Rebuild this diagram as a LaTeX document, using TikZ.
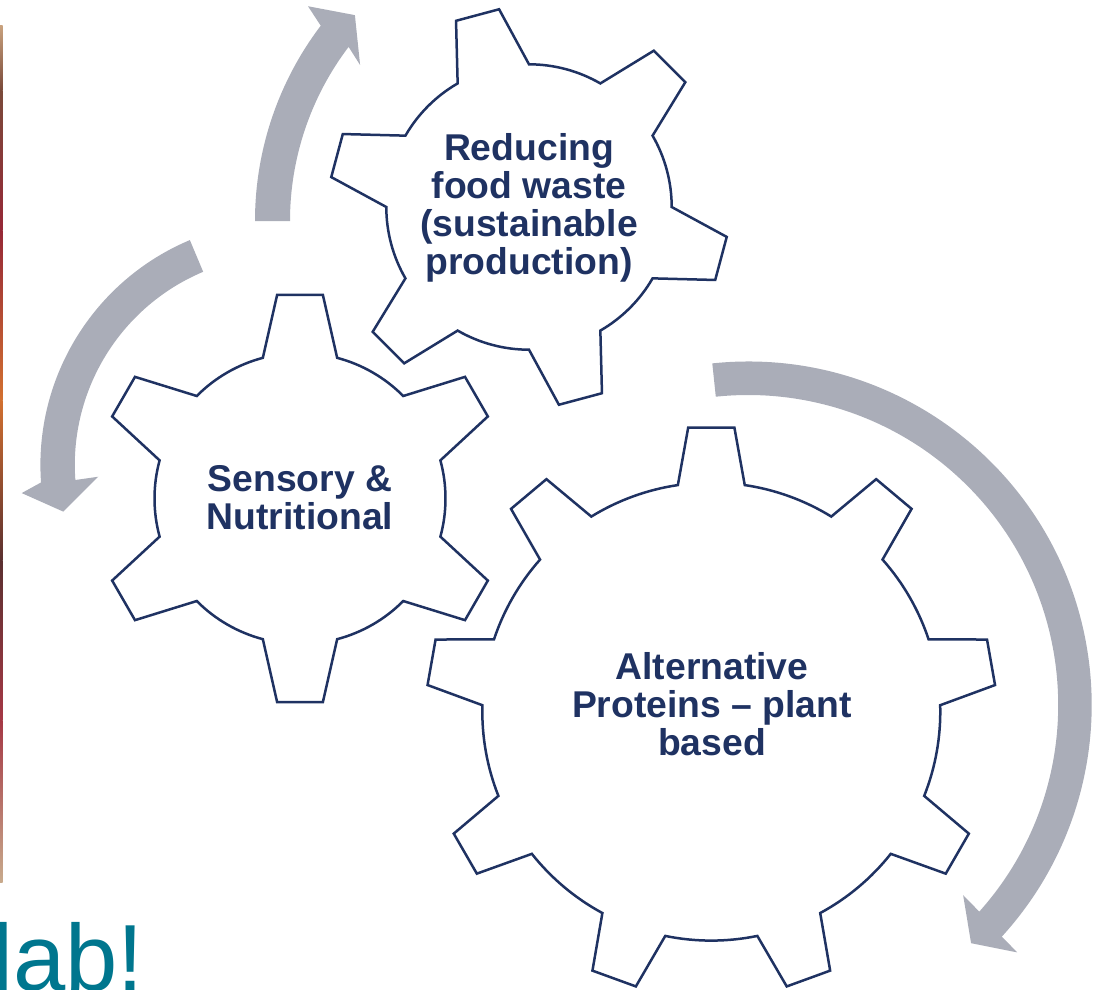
\documentclass[tikz,border=0pt]{standalone}
\usepackage{fontspec}
\setmainfont{Liberation Sans}
\definecolor{navy}{RGB}{31,50,98}
\definecolor{arrowgray}{RGB}{170,173,184}
\definecolor{labteal}{RGB}{0,118,142}

% Gear outline centred at the origin of the current scope:
% #1 tip radius, #2 root radius, #3 teeth, #4 angle of first tooth,
% #5 half angle of a tooth tip, #6 half angle of a tooth root
\newcommand{\gearoutline}[6]{%
  \pgfmathsetmacro\gstep{360/#3}%
  \draw[gearline] ({#4-#6}:#2)
    \foreach \k in {1,...,#3}{
      -- ({#4+(\k-1)*\gstep-#5}:#1) -- ({#4+(\k-1)*\gstep+#5}:#1)
      -- ({#4+(\k-1)*\gstep+#6}:#2)
      arc[start angle={#4+(\k-1)*\gstep+#6}, end angle={#4+\k*\gstep-#6}, radius=#2]
    } -- cycle;%
}

\tikzset{
  gearline/.style={draw=navy, line width=2.5pt, fill=white, line join=miter},
  geartext/.style={text=navy, align=center, inner sep=0pt,
                   font=\bfseries\fontsize{37.3}{38}\selectfont},
  cyclearrow/.style={fill=arrowgray, draw=none}
}

\begin{document}
\begin{tikzpicture}[x=1pt,y=1pt]
\useasboundingbox (0,-989) rectangle (1104,0);
\clip (0,-989) rectangle (1104,0);

% thin photo edge on the left
\shade[top color={rgb,255:red,201;green,162;blue,126}, bottom color={rgb,255:red,122;green,74;blue,58}] (0,-25) rectangle (2.5,-90);
\shade[top color={rgb,255:red,122;green,74;blue,58}, bottom color={rgb,255:red,150;green,40;blue,55}] (0,-90) rectangle (2.5,-230);
\shade[top color={rgb,255:red,150;green,40;blue,55}, bottom color={rgb,255:red,210;green,112;blue,48}] (0,-230) rectangle (2.5,-400);
\shade[top color={rgb,255:red,210;green,112;blue,48}, bottom color={rgb,255:red,90;green,48;blue,48}] (0,-400) rectangle (2.5,-560);
\shade[top color={rgb,255:red,90;green,48;blue,48}, bottom color={rgb,255:red,165;green,56;blue,69}] (0,-560) rectangle (2.5,-720);
\shade[top color={rgb,255:red,165;green,56;blue,69}, bottom color={rgb,255:red,200;green,170;blue,140}] (0,-720) rectangle (2.5,-882);

% gears
\begin{scope}[shift={(300,-498.5)}]
  \gearoutline{205}{145.5}{6}{90}{6.4}{14.8}
\end{scope}
\begin{scope}[shift={(529,-207)}]
  \gearoutline{200}{142.7}{6}{105}{6.4}{15}
\end{scope}
\begin{scope}[shift={(711.3,-711.6)}]
  \gearoutline{285}{229}{9}{90}{4.65}{8.4}
\end{scope}

% curved arrows between the gears
\begin{scope}[shift={(578,-221)}]
  \fill[cyclearrow] (180:323) arc[start angle=180, end angle=142.8, radius=323]
    -- (141.5:345) -- (137.3:303.6) -- (144.4:268) -- (142.8:288)
    arc[start angle=142.8, end angle=180, radius=288] -- cycle;
\end{scope}
\begin{scope}[shift={(284.4,-465)}]
  \fill[cyclearrow] (112.8:244) arc[start angle=112.8, end angle=184.1, radius=244]
    -- (186.1:264.2) -- (191.9:226) -- (183.6:186.5) -- (184.1:209.6)
    arc[start angle=184.1, end angle=112.8, radius=209.6] -- cycle;
\end{scope}
\begin{scope}[shift={(748.2,-705)}]
  \fill[cyclearrow] (96:343.5) arc[start angle=96, end angle=-42.4, radius=343.5]
    -- (-42.6:365.5) -- (-46.9:326.2) -- (-41.5:287) -- (-41.8:310)
    arc[start angle=-41.8, end angle=96, radius=310] -- cycle;
\end{scope}

% labels
\node[geartext] (waste) at (529,-208.3) {Reducing\\food waste\\(sustainable\\production)};
\node[geartext] (sensory) at (300,-497.2) {Sensory \&\\Nutritional};
\node[geartext] (protein) at (712,-704.6) {Alternative\\Proteins -- plant\\based};

\node[anchor=base west, inner sep=0pt, text=labteal,
      font=\fontsize{94}{100}\selectfont] (lab) at (-7.6,-990) {lab!};
\end{tikzpicture}
\end{document}
